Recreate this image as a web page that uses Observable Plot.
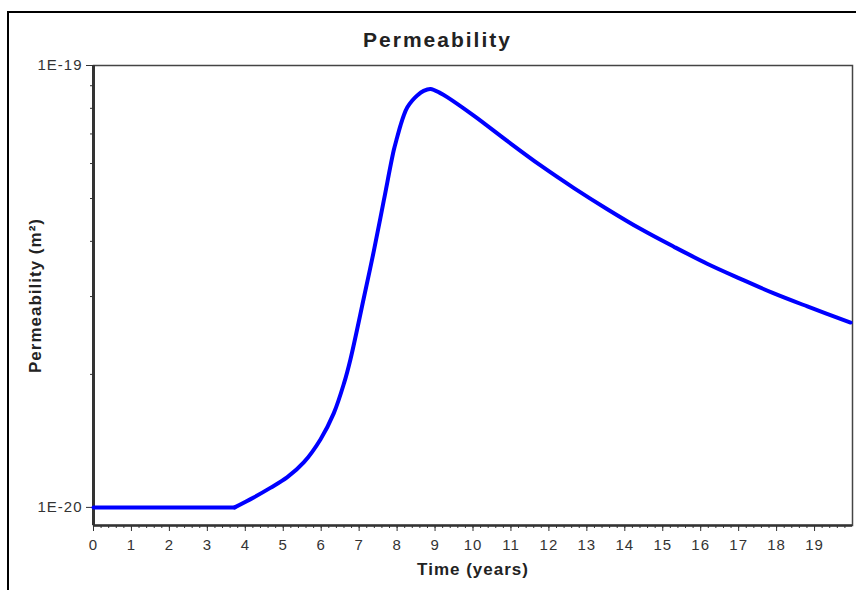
<!DOCTYPE html>
<html><head><meta charset="utf-8">
<script src="https://cdn.jsdelivr.net/npm/d3@7"></script>
<script src="https://cdn.jsdelivr.net/npm/@observablehq/plot@0.6"></script>
<style>
body{margin:0;background:#fff;}
#wrap{position:relative;width:856px;height:590px;overflow:hidden;background:#fff;}
#frame{position:absolute;left:7px;top:11px;width:900px;height:700px;border-top:2px solid #000;border-left:2px solid #000;}
#chart{position:absolute;left:0;top:0;}
#title{position:absolute;left:0;width:875px;top:28px;text-align:center;font:bold 21px 'Liberation Sans',Arial,sans-serif;letter-spacing:2px;color:#222;}
</style></head><body>
<div id="wrap"><div id="frame"></div><div id="chart"></div><div id="title">Permeability</div></div>
<script>
// Time (years)
const time = [0, 3.72, 4.22, 4.66, 5.10, 5.54, 5.98, 6.33, 6.60, 6.77, 7.12, 7.39, 7.65, 7.91, 8.00, 8.09, 8.18, 8.27, 8.40, 8.53, 8.70, 8.88, 9.14, 9.32, 10.02, 10.90, 11.78, 12.66, 13.54, 14.41, 15.29, 16.17, 17.05, 17.93, 18.81, 19.95];
// Permeability (m²)
const permeability = [1.0e-20, 1.0e-20, 1.053e-20, 1.107e-20, 1.169e-20, 1.264e-20, 1.425e-20, 1.632e-20, 1.908e-20, 2.162e-20, 2.97e-20, 3.815e-20, 4.95e-20, 6.42e-20, 6.87e-20, 7.32e-20, 7.73e-20, 8.04e-20, 8.33e-20, 8.55e-20, 8.76e-20, 8.85e-20, 8.66e-20, 8.48e-20, 7.70e-20, 6.75e-20, 5.94e-20, 5.28e-20, 4.73e-20, 4.27e-20, 3.89e-20, 3.56e-20, 3.29e-20, 3.05e-20, 2.85e-20, 2.62e-20];
// Tick labels
const xTicks = [0,1,2,3,4,5,6,7,8,9,10,11,12,13,14,15,16,17,18,19];
const yTicks = [1e-20, 1e-19];
const yTickLabels = ["1E-20", "1E-19"];
const yMinor = [2e-20,3e-20,4e-20,5e-20,6e-20,7e-20,8e-20,9e-20];
const xMinor = d3.range(0, 100).map(i => i / 5);

const onset = 3.72; // end of the flat initial segment
const data = time.map((t, i) => ({t, k: permeability[i]}));
const flat = data.filter(d => d.t <= onset);
const rise = data.filter(d => d.t >= onset);
const yMin = 9.1e-21;

const chart = Plot.plot({
  width: 856, height: 590,
  marginLeft: 93, marginRight: 4, marginTop: 65, marginBottom: 65,
  style: {fontFamily: "'Liberation Sans', Arial, sans-serif", fontSize: "15px", letterSpacing: "1px", background: "transparent", color: "#333"},
  x: {domain: [0, 20]},
  y: {type: "log", domain: [yMin, 1e-19]},
  marks: [
    Plot.frame({stroke: "#444", strokeWidth: 1.5}),
    Plot.axisX(xMinor, {tickSize: 3, text: null, stroke: "#333", label: null}),
    Plot.axisX(xTicks, {tickSize: 6, tickPadding: 8, tickFormat: d => String(d), stroke: "#333", fill: "#333", label: null}),
    Plot.axisY(yMinor, {tickSize: 3, text: null, stroke: "#333", label: null}),
    Plot.axisY(yTicks, {tickSize: 7, tickPadding: 4, tickFormat: d => yTickLabels[yTicks.indexOf(d)], stroke: "#333", fill: "#333", label: null}),
    Plot.ruleX([0], {stroke: "#333", strokeWidth: 3}),
    Plot.ruleY([yMin], {stroke: "#333", strokeWidth: 2.5}),
    Plot.line(flat, {x: "t", y: "k", stroke: "#0000ff", strokeWidth: 4, curve: "linear"}),
    Plot.line(rise, {x: "t", y: "k", stroke: "#0000ff", strokeWidth: 4, curve: "catmull-rom"}),
    Plot.text(["Time (years)"], {frameAnchor: "bottom", lineAnchor: "middle", textAnchor: "middle", dy: 44, fontSize: 17, fontWeight: "bold", fill: "#222"}),
    Plot.text(["Permeability (m²)"], {frameAnchor: "left", textAnchor: "middle", lineAnchor: "middle", dx: -58, rotate: -90, fontSize: 17, fontWeight: "bold", fill: "#222"})
  ]
});
document.getElementById("chart").appendChild(chart);
</script>
</body></html>
